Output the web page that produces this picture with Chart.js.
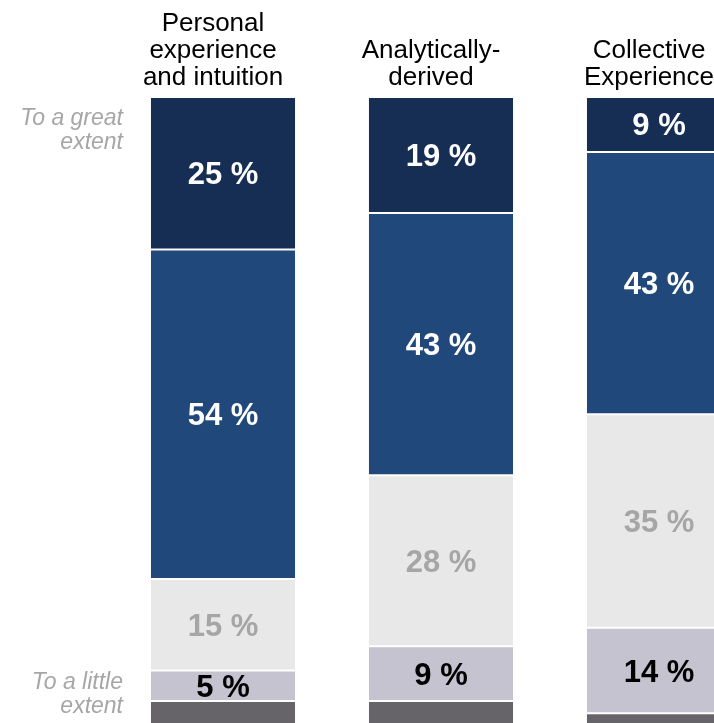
<!DOCTYPE html>
<html>
<head>
<meta charset="utf-8">
<title>Sources of knowledge</title>
<script src="https://cdn.jsdelivr.net/npm/chart.js@4.4.1/dist/chart.umd.min.js"></script>
<style>
    html, body {
        margin: 0;
        padding: 0;
        background: #ffffff;
        overflow: hidden;
        width: 714px;
        height: 723px;
    }
    #wrap {
        position: absolute;
        left: 0;
        top: 0;
    }
</style>
</head>
<body>
<div id="wrap">
    <canvas id="extentChart" width="768" height="756"></canvas>
</div>

<script>
//! ======================= Data =======================================
const sources = [
    ['Personal', 'experience', 'and intuition'],
    ['Analytically-', 'derived'],
    ['Collective', 'Experience']
];

const greatExtent = [25, 19, 9];
const largeExtent = [54, 43, 43];
const someExtent = [15, 28, 35];
const littleExtent = [5, 9, 14];
const notAtAll = [4, 4, 3];

// scale annotations on the left
const extentTicks = [5.5, 98];
const extentLabels = [['To a great', 'extent'], ['To a little', 'extent']];

const FONT = '"Liberation Sans", Arial, Helvetica, sans-serif';

//! ================ Percent labels inside the segments ================
const segmentLabels = {
    id: 'segmentLabels',
    afterDatasetsDraw(chart) {
        const ctx = chart.ctx;
        ctx.save();
        ctx.font = 'bold 31px ' + FONT;
        ctx.textAlign = 'center';
        ctx.textBaseline = 'alphabetic';
        chart.data.datasets.forEach((ds, i) => {
            if (!ds.labelColor) return;
            chart.getDatasetMeta(i).data.forEach((bar, j) => {
                const { x, y, base } = bar.getProps(['x', 'y', 'base'], true);
                ctx.fillStyle = ds.labelColor;
                ctx.fillText(ds.data[j] + ' %', x, (y + base) / 2 + 11);
            });
        });
        ctx.restore();
    }
};

//! ============ "To a great / little extent" beside the axis ==========
const extentNotes = {
    id: 'extentNotes',
    afterDraw(chart) {
        const { ctx, chartArea, scales } = chart;
        const lineHeight = 24;
        ctx.save();
        ctx.font = 'italic 23px ' + FONT;
        ctx.fillStyle = '#a6a6a6';
        ctx.textAlign = 'right';
        ctx.textBaseline = 'middle';
        extentTicks.forEach((value, i) => {
            const lines = extentLabels[i];
            const yc = scales.y.getPixelForValue(value);
            lines.forEach((line, k) => {
                ctx.fillText(line, chartArea.left + 9, yc + (k - (lines.length - 1) / 2) * lineHeight);
            });
        });
        ctx.restore();
    }
};

//! ========================= Chart ====================================
function segment(label, data, color, labelColor) {
    return {
        label: label,
        data: data,
        backgroundColor: color,
        borderColor: 'rgba(255,255,255,0.75)',
        borderWidth: 1,
        borderSkipped: false,
        labelColor: labelColor,
        barPercentage: 0.67,
        categoryPercentage: 1
    };
}

const ctx = document.getElementById('extentChart').getContext('2d');

new Chart(ctx, {
    type: 'bar',
    data: {
        labels: sources,
        datasets: [
            segment('To a great extent', greatExtent, '#172e54', '#ffffff'),
            segment('To a large extent', largeExtent, '#20487a', '#ffffff'),
            segment('To some extent', someExtent, '#e8e8e8', '#a6a6a6'),
            segment('To a little extent', littleExtent, '#c5c3cf', '#000000'),
            segment('Not at all', notAtAll, '#666468', null)
        ]
    },
    options: {
        responsive: false,
        devicePixelRatio: 1,
        animation: false,
        layout: { padding: 0 },
        plugins: {
            legend: { display: false },
            tooltip: { enabled: false }
        },
        scales: {
            x: {
                position: 'top',
                stacked: true,
                grid: { display: false },
                border: { display: false },
                ticks: {
                    color: '#000000',
                    padding: -2,
                    labelOffset: -10,
                    maxRotation: 0,
                    autoSkip: false,
                    font: { family: FONT, size: 26, lineHeight: 1.04 }
                },
                afterFit(axis) { axis.height = 97; }
            },
            y: {
                stacked: true,
                reverse: true,
                min: 0,
                max: 108,
                grid: { display: false },
                border: { display: false },
                ticks: { display: false },
                afterFit(axis) { axis.width = 114; }
            }
        }
    },
    plugins: [segmentLabels, extentNotes]
});
</script>
</body>
</html>
